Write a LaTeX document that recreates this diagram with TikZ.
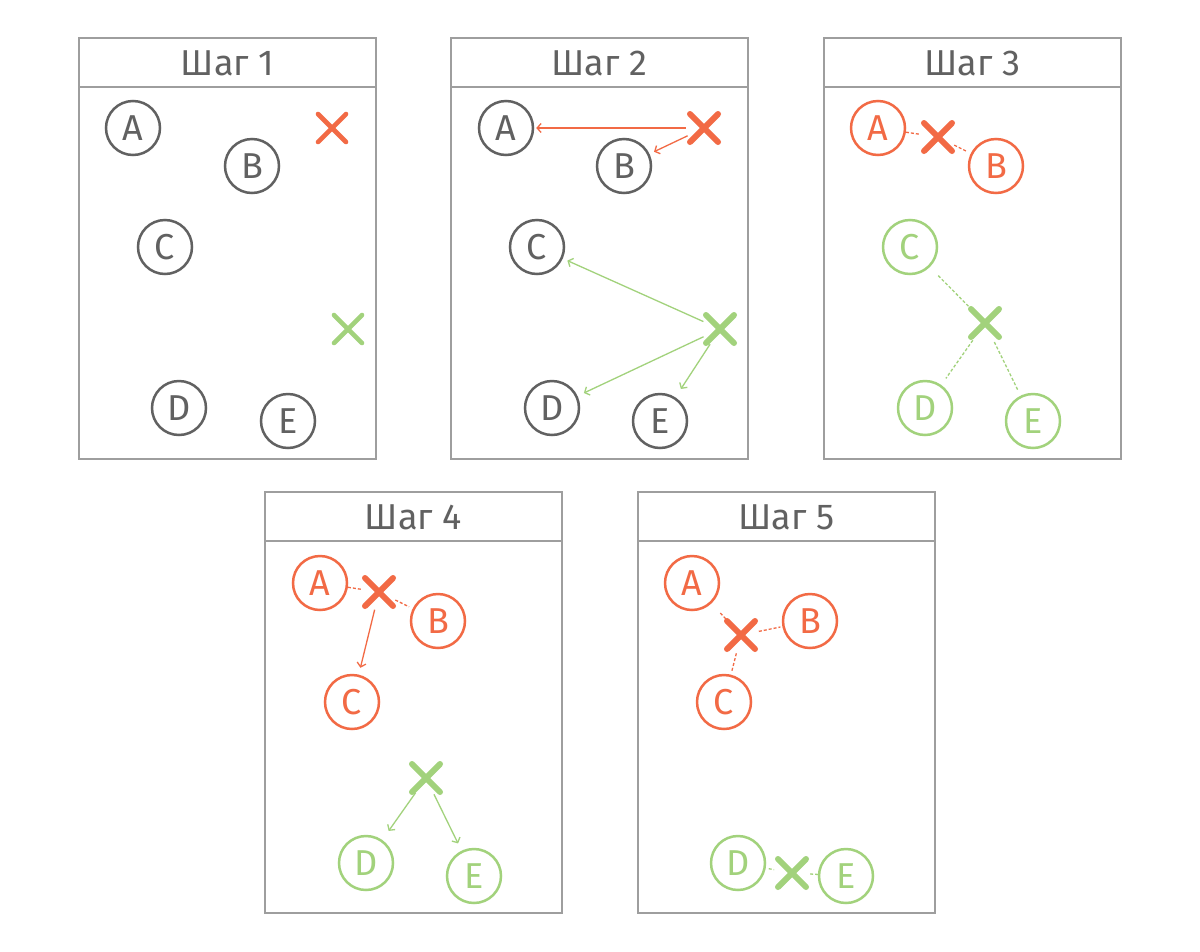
\documentclass[tikz,border=0pt]{standalone}
\usepackage{fontspec}
\setmainfont{Fira Sans}
\usetikzlibrary{arrows.meta}
\definecolor{gr}{HTML}{616161}
\definecolor{bd}{HTML}{9E9E9E}
\definecolor{rd}{HTML}{F26A45}
\definecolor{gn}{HTML}{A2D27C}
\tikzset{
 panel/.style={draw=bd, line width=1.4pt},
 ptitle/.style={text=gr, inner sep=0pt, font=\fontsize{36}{36}\selectfont},
 ball/.style={circle, draw=#1, text=#1, line width=2.5pt, minimum size=54pt, inner sep=0pt, font=\fontsize{36}{36}\selectfont},
 xn/.style={circle, minimum size=36pt, inner sep=0pt},
 xl/.style={line width=6pt, line cap=round, draw=#1},
 arr/.style={draw=#1, line width=1.3pt, -{Straight Barb[length=4pt,width=9pt]}, shorten >=5pt},
 dsh/.style={draw=#1, line width=1.3pt, dash pattern=on 3pt off 2pt},
}
\newcommand\xmk[5][]{%
 \node[xn] (#2) at (#3,#4) {};
 \draw[xl=#5,#1] (#3-14,#4-14) -- (#3+14,#4+14);
 \draw[xl=#5,#1] (#3-14,#4+14) -- (#3+14,#4-14);
}
\newcommand\pnl[4]{%
 \draw[panel] (#1,#2) rectangle (#1+297,#2+421);
 \draw[panel] (#1,#2+49) -- (#1+297,#2+49);
 \node[ptitle] (#4) at (#1+148.5,#2+25.5) {#3};
}
\begin{document}
\begin{tikzpicture}[x=1pt,y=-1pt]
\useasboundingbox (0,0) rectangle (1200,951);
\fill[white] (0,0) rectangle (1200,951);

% Panel 1
\pnl{79}{38}{Шаг 1}{t1}
\node[ball=gr] (A1) at (133,128) {A};
\node[ball=gr] (B1) at (252,166) {B};
\node[ball=gr] (C1) at (165,247) {C};
\node[ball=gr] (D1) at (179,408) {D};
\node[ball=gr] (E1) at (288,421) {E};
\xmk[line width=4.6pt]{R1}{332}{128}{rd}
\xmk[line width=4.6pt]{G1}{348}{329}{gn}

% Panel 2
\pnl{451}{38}{Шаг 2}{t2}
\node[ball=gr] (A2) at (506,128) {A};
\node[ball=gr] (B2) at (624,166) {B};
\node[ball=gr] (C2) at (537,247) {C};
\node[ball=gr] (D2) at (552,408) {D};
\node[ball=gr] (E2) at (660,421) {E};
\xmk{R2}{704}{128}{rd}
\xmk{G2}{720}{329}{gn}
\draw[arr=rd, shorten >=2pt] (R2) -- (A2);
\draw[arr=rd] (R2) -- (B2);
\draw[arr=gn] (G2) -- (C2);
\draw[arr=gn, shorten >=7pt] (G2) -- (D2);
\draw[arr=gn, shorten >=10pt] (G2) -- (E2);

% Panel 3
\pnl{824}{38}{Шаг 3}{t3}
\node[ball=rd] (A3) at (878,128) {A};
\node[ball=rd] (B3) at (996,166) {B};
\node[ball=gn] (C3) at (910,247) {C};
\node[ball=gn] (D3) at (925,408) {D};
\node[ball=gn] (E3) at (1033,421) {E};
\xmk{R3}{938}{137}{rd}
\xmk{G3}{985}{323}{gn}
\draw[dsh=rd] (A3) -- (R3);
\draw[dsh=rd, shorten >=4pt] (R3) -- (B3);
\draw[dsh=gn, shorten <=12pt, shorten >=5pt] (C3) -- (G3);
\draw[dsh=gn, shorten <=3pt, shorten >=8pt] (G3) -- (D3);
\draw[dsh=gn, shorten <=3pt, shorten >=6pt] (G3) -- (E3);

% Panel 4
\pnl{265}{492}{Шаг 4}{t4}
\node[ball=rd] (A4) at (320,583) {A};
\node[ball=rd] (B4) at (438,621) {B};
\node[ball=rd] (C4) at (352,702) {C};
\node[ball=gn] (D4) at (366,863) {D};
\node[ball=gn] (E4) at (474,876) {E};
\xmk{R4}{379}{592}{rd}
\xmk{G4}{426}{778}{gn}
\draw[dsh=rd] (A4) -- (R4);
\draw[dsh=rd, shorten >=4pt] (R4) -- (B4);
\draw[arr=rd, shorten >=7pt] (R4) -- (C4);
\draw[arr=gn, shorten >=11pt] (G4) -- (D4);
\draw[arr=gn, shorten >=8pt] (G4) -- (E4);

% Panel 5
\pnl{638}{492}{Шаг 5}{t5}
\node[ball=rd] (A5) at (692,583) {A};
\node[ball=rd] (B5) at (810,621) {B};
\node[ball=rd] (C5) at (724,702) {C};
\node[ball=gn] (D5) at (738,863) {D};
\node[ball=gn] (E5) at (846,876) {E};
\xmk{R5}{741}{635}{rd}
\xmk{G5}{792}{873}{gn}
\draw[dsh=rd, shorten <=13pt] (A5) -- (R5);
\draw[dsh=rd, shorten >=2pt] (R5) -- (B5);
\draw[dsh=rd, shorten <=4pt] (C5) -- (R5);
\draw[dsh=gn, shorten <=3pt] (D5) -- (G5);
\draw[dsh=gn] (G5) -- (E5);
\end{tikzpicture}
\end{document}
